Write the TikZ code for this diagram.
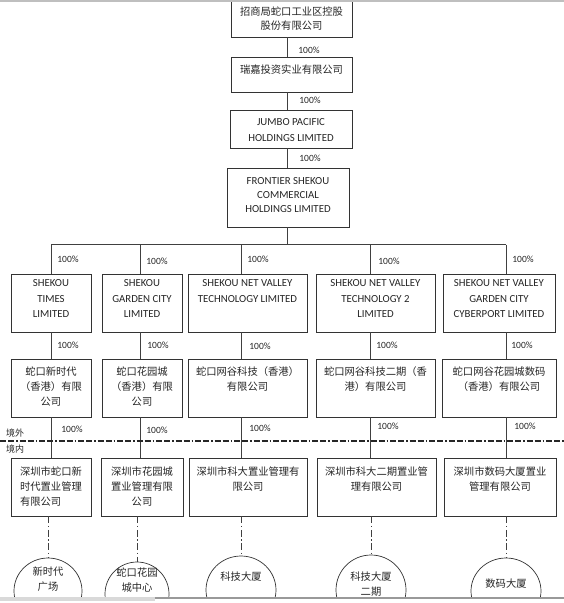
\documentclass[tikz,border=0pt]{standalone}
\usepackage{fontspec}
\setmainfont{Carlito}
\newfontfamily\cnf{Noto Sans CJK SC}
\usetikzlibrary{shapes.geometric}
\newcommand\mkbox[8]{%
  \node[box, minimum width={#4-#2}, minimum height={#5-#3}] (#1) at ({(#2+#4)/2},{(#3+#5)/2}) {};
  \node[#6] (#1t) at ({(#2+#4)/2},{#3+#7}) {#8};
}
\begin{document}
\begin{tikzpicture}[x=1pt,y=-1pt,
  box/.style={draw=black!80, line width=0.7pt, rectangle, inner sep=0pt},
  en/.style={font=\fontsize{10.8}{15.3}\selectfont, align=center, anchor=north, inner sep=0pt, text=black!85},
  cn/.style={font=\cnf\fontsize{10.3}{15}\selectfont, align=center, anchor=north, inner sep=0pt, text=black!85},
  tight/.style={font=\fontsize{10.8}{14}\selectfont},
  cntight/.style={font=\cnf\fontsize{10.3}{14}\selectfont},
  pct/.style={font=\fontsize{9.5}{10}\selectfont, inner sep=0pt, text=black!85},
  tag/.style={font=\cnf\fontsize{9}{10}\selectfont, inner sep=0pt, text=black!85},
  link/.style={draw=black!75, line width=0.7pt},
  dd/.style={draw=black!75, line width=0.7pt, dash pattern=on 7pt off 2.5pt on 1.5pt off 2.5pt},
  border/.style={draw=black!85, line width=1.1pt, dash pattern=on 6pt off 2pt on 6pt off 2pt on 1.5pt off 2pt},
  oval/.style={draw=black!80, line width=0.7pt, ellipse, inner sep=0pt},
  ]
\useasboundingbox (0,0) rectangle (564,603);
\fill[white] (0,0) rectangle (564,603);

% columns
\coordinate (spine) at (287,0);
\coordinate (c1) at (51,0);
\coordinate (c2) at (140,0);
\coordinate (c3) at (241,0);
\coordinate (c4) at (370,0);
\coordinate (c5) at (506,0);
\coordinate (busL) at (51,244.5);
\coordinate (busR) at (506,244.5);

% top chain
\mkbox{b1}{231}{1}{352}{37}{cn,cntight}{5.5}{招商局蛇口工业区控股\\股份有限公司}
\mkbox{b2}{231}{57}{352}{92}{cn}{7.5}{瑞嘉投资实业有限公司}
\mkbox{b3}{230}{110}{352}{148}{en}{8.5}{JUMBO PACIFIC\\HOLDINGS LIMITED}
\mkbox{b4}{227}{168}{349}{227}{en,tight}{9.5}{FRONTIER SHEKOU\\COMMERCIAL\\HOLDINGS LIMITED}

% row 1
\mkbox{r1a}{11}{274}{91}{332}{en}{5.5}{SHEKOU\\TIMES\\LIMITED}
\mkbox{r1b}{102}{274}{182}{332}{en}{5.5}{SHEKOU\\GARDEN CITY\\LIMITED}
\mkbox{r1c}{188}{274}{307}{332}{en}{5.5}{SHEKOU NET VALLEY\\TECHNOLOGY LIMITED}
\mkbox{r1d}{316}{274}{435}{332}{en}{5.5}{SHEKOU NET VALLEY\\TECHNOLOGY 2\\LIMITED}
\mkbox{r1e}{443}{274}{555}{332}{en}{5.5}{SHEKOU NET VALLEY\\GARDEN CITY\\CYBERPORT LIMITED}

% row 2
\mkbox{r2a}{11}{359}{91}{417}{cn}{7.5}{蛇口新时代\\（香港）有限\\公司}
\mkbox{r2b}{102}{359}{182}{417}{cn}{7.5}{蛇口花园城\\（香港）有限\\公司}
\mkbox{r2c}{188}{359}{307}{417}{cn}{7.5}{蛇口网谷科技（香港）\\有限公司}
\mkbox{r2d}{316}{359}{435}{417}{cn}{7.5}{蛇口网谷科技二期（香\\港）有限公司}
\mkbox{r2e}{442}{359}{556}{417}{cn}{7.5}{蛇口网谷花园城数码\\（香港）有限公司}

% row 3
\mkbox{r3a}{11}{458}{91}{516}{cn,align=left}{8.5}{深圳市蛇口新\\时代置业管理\\有限公司}
\mkbox{r3b}{101}{458}{183}{516}{cn}{8.5}{深圳市花园城\\置业管理有限\\公司}
\mkbox{r3c}{189}{458}{307}{516}{cn}{8.5}{深圳市科大置业管理有\\限公司}
\mkbox{r3d}{317}{458}{436}{516}{cn}{8.5}{深圳市科大二期置业管\\理有限公司}
\mkbox{r3e}{444}{458}{556}{516}{cn}{8.5}{深圳市数码大厦置业\\管理有限公司}

% ellipses (cut at the bottom)
\begin{scope}
\clip (0,0) rectangle (564,597);
\node[oval, minimum width=68pt, minimum height=66pt] (ea) at (48,591) {};
\node[oval, minimum width=64pt, minimum height=64pt] (eb) at (137,594) {};
\node[oval, minimum width=70pt, minimum height=68pt] (ec) at (241,590) {};
\node[oval, minimum width=70pt, minimum height=70pt] (ed) at (371,590) {};
\node[oval, minimum width=70pt, minimum height=66pt] (ee) at (506,591) {};
\end{scope}
\node[cn, anchor=center] (eat) at (48,579.5) {新时代\\广场};
\node[cn, anchor=center] (ebt) at (137,580) {蛇口花园\\城中心};
\node[cn, anchor=center] (ect) at (241,577) {科技大厦};
\node[cn, anchor=center] (edt) at (371,584.5) {科技大厦\\二期};
\node[cn, anchor=center] (eet) at (506,584) {数码大厦};

% connectors of the top chain
\draw[link] (b1.south -| spine) -- (b2.north -| spine);
\draw[link] (b2.south -| spine) -- (b3.north -| spine);
\draw[link] (b3.south -| spine) -- (b4.north -| spine);
\draw[link] (b4.south -| spine) -- (spine |- busL);
\draw[link] (busL) -- (busR);
\foreach \c/\r in {c1/a,c2/b,c3/c,c4/d,c5/e}{
  \draw[link] (\c |- busL) -- (r1\r.north -| \c);
  \draw[link] (r1\r.south -| \c) -- (r2\r.north -| \c);
  \draw[link] (r2\r.south -| \c) -- (r3\r.north -| \c);
}
\foreach \r in {a,b,c,d,e}{
  \draw[dd] (r3\r.south -| e\r.north) -- (e\r.north);
}

% border line between offshore and onshore
\coordinate (bdL) at (0,441);
\coordinate (bdR) at (564,441);
\draw[border] (bdL) -- (bdR);
\node[tag] (out) at (15,433) {境外};
\node[tag] (in) at (15,449) {境内};

% percentages
\node[pct] (p1) at (309,50) {100\%};
\node[pct] (p2) at (310,100) {100\%};
\node[pct] (p3) at (310,158) {100\%};
\node[pct] (q1) at (68,259) {100\%};
\node[pct] (q2) at (157,261) {100\%};
\node[pct] (q3) at (258,259) {100\%};
\node[pct] (q4) at (389,261) {100\%};
\node[pct] (q5) at (523,259) {100\%};
\node[pct] (s1) at (68,345) {100\%};
\node[pct] (s2) at (158,345) {100\%};
\node[pct] (s3) at (260,346) {100\%};
\node[pct] (s4) at (387,345) {100\%};
\node[pct] (s5) at (522,345) {100\%};
\node[pct] (t1) at (72,429) {100\%};
\node[pct] (t2) at (157,430) {100\%};
\node[pct] (t3) at (260,428) {100\%};
\node[pct] (t4) at (388,426) {100\%};
\node[pct] (t5) at (525,426) {100\%};

% window edges of the screenshot
\fill[black!25] (0,0) rectangle (564,2);
\fill[black!15] (0,597) rectangle (155,601);
\fill[black!40] (155,597) rectangle (564,599);
\end{tikzpicture}
\end{document}
